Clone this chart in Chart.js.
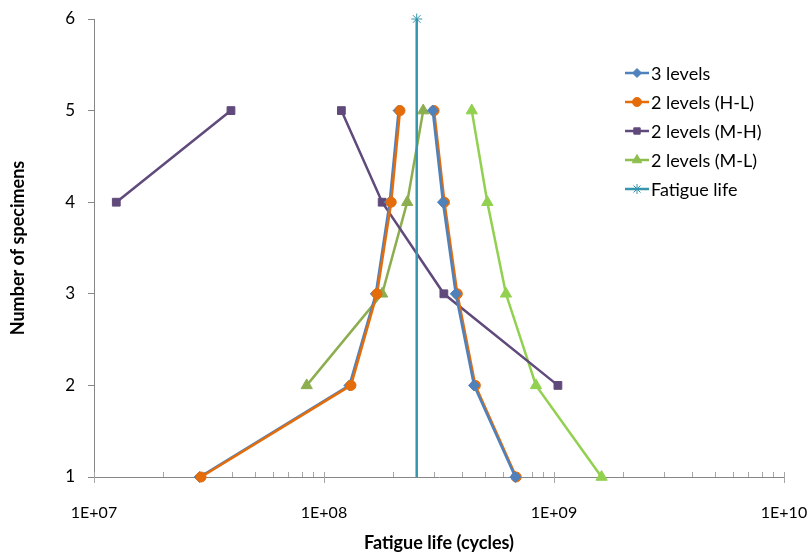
<!DOCTYPE html>
<html lang="en">
<head>
    <meta charset="UTF-8">
    <title>Fatigue life</title>
    <style>
        body { margin: 0; background: #fff; }
        #chart { display: block; }
    </style>
    <script src="https://cdn.jsdelivr.net/npm/chart.js"></script>
</head>
<body>
    <canvas id="chart" width="812" height="559"></canvas>
    <script>
        // specimen counts for each branch
        const levelsLow = [1, 2, 3, 4, 5];
        const levelsHigh = [5, 4, 3, 2, 1];

        // 3 levels
        const threeLeftX = [2.88e7, 1.29e8, 1.68e8, 1.93e8, 2.11e8];
        const threeRightX = [2.97e8, 3.29e8, 3.74e8, 4.49e8, 6.79e8];
        // 2 levels (H-L)
        const hlLeftX = [2.92e7, 1.31e8, 1.70e8, 1.96e8, 2.14e8];
        const hlRightX = [3.01e8, 3.34e8, 3.80e8, 4.55e8, 6.85e8];
        // 2 levels (M-H)
        const mhLeftX = [1.25e7, 3.94e7];
        const mhLeftY = [4, 5];
        const mhRightX = [1.19e8, 1.79e8, 3.32e8, 1.04e9];
        const mhRightY = [5, 4, 3, 2];
        // 2 levels (M-L)
        const mlLeftX = [8.41e7, 1.79e8, 2.30e8, 2.70e8];
        const mlLeftY = [2, 3, 4, 5];
        const mlRightX = [4.39e8, 5.13e8, 6.18e8, 8.35e8, 1.61e9];
        // Fatigue life
        const fatigueX = [2.53e8, 2.53e8];
        const fatigueY = [1, 6];

        const xTicks = [];
        for (let e = 7; e <= 9; e++) {
            for (let m = 1; m <= 9; m++) xTicks.push(m * Math.pow(10, e));
        }
        xTicks.push(1e10);

        const legendItems = [
            { label: '3 levels', color: '#4F81BD', style: 'rectRot', r: 4.5 },
            { label: '2 levels (H-L)', color: '#E46C0A', style: 'circle', r: 4.5 },
            { label: '2 levels (M-H)', color: '#604A7B', style: 'rect', r: 4.5 },
            { label: '2 levels (M-L)', color: '#8CBF4E', style: 'triangle', r: 5.5 },
            { label: 'Fatigue life', color: '#3596AE', style: 'star', r: 5 }
        ];

        function pts(xs, ys) {
            return xs.map((x, i) => ({ x: x, y: ys[i] }));
        }

        function series(data, color, style, radius, order) {
            return {
                data: data,
                showLine: true,
                borderColor: color,
                backgroundColor: color,
                pointBackgroundColor: color,
                pointBorderColor: color,
                borderWidth: 2.5,
                pointStyle: style,
                pointRadius: radius,
                pointBorderWidth: 1,
                clip: false,
                order: order
            };
        }

        // x axis tick marks: minor ones inside, major ones crossing
        const tickMarks = {
            id: 'tickMarks',
            beforeDatasetsDraw(chart) {
                const ctx = chart.ctx;
                const xs = chart.scales.x;
                const yb = chart.chartArea.bottom;
                ctx.save();
                ctx.strokeStyle = '#A6A6A6';
                ctx.lineWidth = 1;
                xTicks.forEach(v => {
                    const px = Math.round(xs.getPixelForValue(v)) + 0.5;
                    const major = Math.abs(Math.log10(v) % 1) < 1e-9;
                    ctx.beginPath();
                    ctx.moveTo(px, yb - 5);
                    ctx.lineTo(px, major ? yb + 6 : yb);
                    ctx.stroke();
                });
                ctx.restore();
            }
        };

        const customLegend = {
            id: 'customLegend',
            afterDraw(chart) {
                const ctx = chart.ctx;
                ctx.save();
                ctx.font = '18px Lato';
                ctx.textBaseline = 'middle';
                ctx.textAlign = 'left';
                legendItems.forEach((item, i) => {
                    const y = 73 + i * 29;
                    ctx.strokeStyle = item.color;
                    ctx.fillStyle = item.color;
                    ctx.lineWidth = 2.5;
                    ctx.beginPath();
                    ctx.moveTo(625, y);
                    ctx.lineTo(649, y);
                    ctx.stroke();
                    if (Chart.helpers && Chart.helpers.drawPoint) {
                        ctx.lineWidth = 1;
                        Chart.helpers.drawPoint(ctx, { pointStyle: item.style, radius: item.r, rotation: 0, borderWidth: 1 }, 637, y);
                    }
                    ctx.fillStyle = '#000';
                    ctx.fillText(item.label, 651, y + 1);
                });
                ctx.restore();
            }
        };

        new Chart(document.getElementById('chart'), {
            type: 'scatter',
            data: {
                datasets: [
                    series(pts(fatigueX, fatigueY), '#3596AE', 'star', [0, 5.5], 0),
                    series(pts(hlLeftX, levelsLow), '#E46C0A', 'circle', 5, 1),
                    series(pts(threeLeftX, levelsLow), '#4F81BD', 'rectRot', 5.5, 2),
                    series(pts(threeRightX, levelsHigh), '#4F81BD', 'rectRot', 5.5, 3),
                    series(pts(hlRightX, levelsHigh), '#E46C0A', 'circle', 5, 4),
                    series(pts(mhLeftX, mhLeftY), '#604A7B', 'rect', 5.5, 5),
                    series(pts(mhRightX, mhRightY), '#604A7B', 'rect', 5.5, 6),
                    series(pts(mlLeftX, mlLeftY), '#8DAE4F', 'triangle', 6.5, 7),
                    series(pts(mlRightX, levelsHigh), '#92D050', 'triangle', 6.5, 8)
                ]
            },
            options: {
                responsive: false,
                animation: false,
                layout: { padding: 0 },
                plugins: {
                    legend: { display: false },
                    tooltip: { enabled: false }
                },
                scales: {
                    x: {
                        type: 'logarithmic',
                        min: 1e7,
                        max: 1e10,
                        afterBuildTicks: scale => { scale.ticks = xTicks.map(v => ({ value: v })); },
                        afterFit: scale => {
                            scale.height = 82;
                            scale.paddingLeft = 0;
                            scale.paddingRight = 28;
                        },
                        grid: { display: false, drawTicks: false },
                        border: { display: true, color: '#868686', width: 1 },
                        ticks: {
                            autoSkip: false,
                            maxRotation: 0,
                            padding: 26,
                            color: '#000',
                            font: { family: 'Lato', size: 16 },
                            callback: v => {
                                const p = Math.log10(v);
                                if (Math.abs(p - Math.round(p)) > 1e-9) return '';
                                return '1E+' + String(Math.round(p)).padStart(2, '0');
                            }
                        },
                        title: {
                            display: true,
                            text: 'Fatigue life (cycles)',
                            color: '#000',
                            font: { family: 'Lato', size: 18, weight: 'bold' },
                            padding: { top: 0, bottom: 5 }
                        }
                    },
                    y: {
                        min: 1,
                        max: 6,
                        afterFit: scale => {
                            scale.width = 94;
                            scale.paddingTop = 19;
                            scale.paddingBottom = 0;
                        },
                        grid: { drawOnChartArea: false, tickLength: 6, color: '#868686' },
                        border: { display: true, color: '#868686', width: 1 },
                        ticks: {
                            stepSize: 1,
                            padding: 13,
                            color: '#000',
                            font: { family: 'Lato', size: 17 }
                        },
                        title: {
                            display: true,
                            text: 'Number of specimens',
                            color: '#000',
                            font: { family: 'Lato', size: 18, weight: 'bold' },
                            padding: { top: 7, bottom: 0 }
                        }
                    }
                }
            },
            plugins: [tickMarks, customLegend]
        });
    </script>
</body>
</html>
